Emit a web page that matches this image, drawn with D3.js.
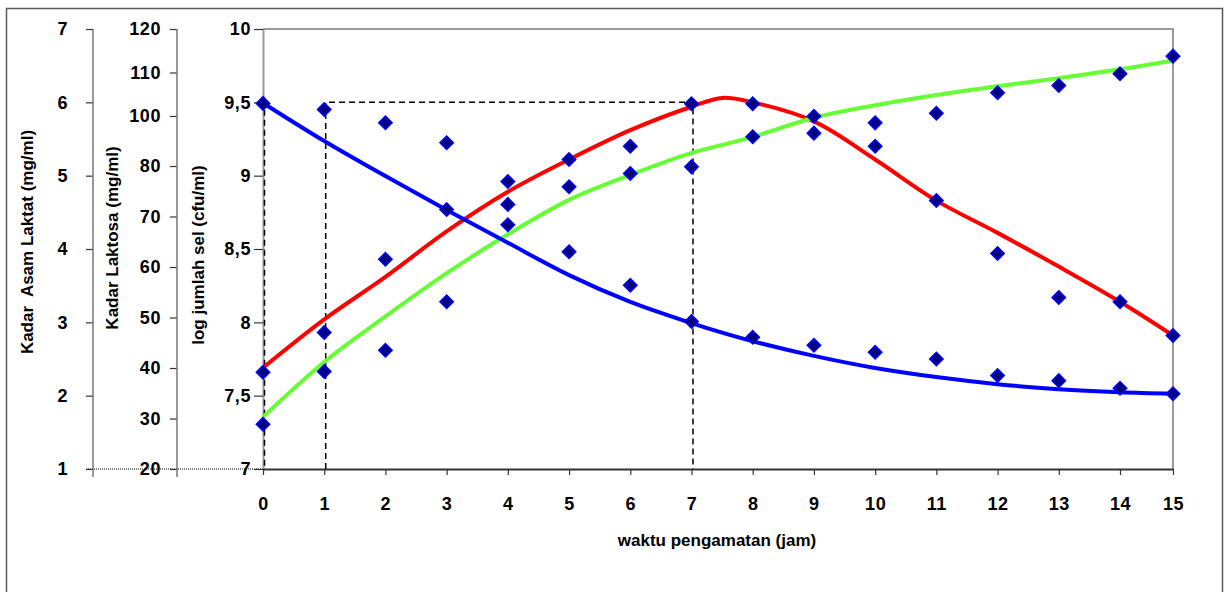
<!DOCTYPE html>
<html>
<head>
<meta charset="utf-8">
<script src="https://cdn.jsdelivr.net/npm/d3@7/dist/d3.min.js"></script>
<style>
  body { margin: 0; background: #fff; }
  svg { display: block; font-family: "Liberation Sans", Arial, sans-serif; font-weight: bold; }
  .tick text { font-family: "Liberation Sans", Arial, sans-serif; font-size: 18px; letter-spacing: 0.6px; fill: #000; }
</style>
</head>
<body>
<svg id="chart" width="1225" height="592"></svg>
<script>
// waktu pengamatan (jam)
const jam = [0, 1, 2, 3, 4, 5, 6, 7, 8, 9, 10, 11, 12, 13, 14, 15];

// observed points (diamonds)
const logSel = [7.66, 7.93, 8.43, 8.77, 8.96, 9.11, 9.20, 9.49, 9.49, 9.29, 9.20, 8.83, 8.47, 8.17, 8.14, 7.91];
const laktosa = [102.9, 101.5, 97.3, 89.3, 72.4, 63.0, 56.4, 49.2, 46.1, 44.5, 43.1, 41.8, 38.5, 37.5, 36.0, 34.9];
const asamLaktat = [1.61, 2.33, 2.62, 3.28, 4.33, 4.85, 5.03, 5.12, 5.53, 5.81, 5.72, 5.85, 6.13, 6.23, 6.39, 6.63];

// trend curves
const trendJam = [0, 1, 2, 3, 4, 5, 6, 7, 7.5, 8, 9, 10, 11, 12, 13, 14, 15];
const trendSel = [7.69, 8.02, 8.31, 8.62, 8.89, 9.11, 9.31, 9.47, 9.53, 9.50, 9.37, 9.11, 8.83, 8.61, 8.38, 8.14, 7.91];
const trendAsam = [1.71, 2.46, 3.08, 3.67, 4.20, 4.67, 5.01, 5.31, 5.42, 5.53, 5.79, 5.96, 6.10, 6.22, 6.33, 6.45, 6.57];
const trendLaktosa = [103.0, 90.0, 78.0, 71.3, 64.8, 58.4, 53.1, 48.9, 47.0, 45.3, 42.4, 40.0, 38.2, 36.8, 35.8, 35.2, 34.9];

// axis ticks
const ticksSel = [7, 7.5, 8, 8.5, 9, 9.5, 10];
const ticksLaktosa = [20, 30, 40, 50, 60, 70, 80, 100, 110, 120];
const ticksAsam = [1, 2, 3, 4, 5, 6, 7];

// dashed guide lines at the peak (jam, log sel)
const guides = [
  [[0, 9.45], [0, 7]],
  [[1, 7], [1, 9.5], [7, 9.5], [7, 7]]
];

const plot = { left: 263, right: 1173, top: 29, bottom: 469 };
const svg = d3.select("#chart");

// the last hour step is drawn a bit narrower in the original
const x = d3.scaleLinear()
  .domain([0, 14, 15])
  .range([plot.left, plot.right - 53, plot.right]);

const ySel = d3.scaleLinear().domain([7, 10]).range([plot.bottom, plot.top]);
const yAsam = d3.scaleLinear().domain([1, 7]).range([plot.bottom, plot.top]);
// laktosa labels are spaced evenly up to 80, then 100..120 squeezed on top
const yLak = d3.scaleLinear()
  .domain([20, 80, 100, 120])
  .range([plot.bottom, plot.bottom - 303, plot.bottom - 353, plot.top]);

// outer frame
svg.append("rect")
  .attr("x", 6.5).attr("y", 8.5)
  .attr("width", 1216).attr("height", 620)
  .attr("fill", "none")
  .attr("stroke", "#5a5a5a")
  .attr("stroke-width", 1.5);

// plot frame (top and right)
svg.append("path")
  .attr("d", `M${plot.left},${plot.top}H${plot.right}V${plot.bottom}`)
  .attr("fill", "none")
  .attr("stroke", "#999")
  .attr("stroke-width", 2);

// dotted base line across the extra axes
svg.append("line")
  .attr("x1", 86).attr("x2", plot.left)
  .attr("y1", plot.bottom).attr("y2", plot.bottom)
  .attr("stroke", "#000")
  .attr("stroke-width", 1)
  .attr("stroke-dasharray", "1,1");

function styleAxis(g) {
  g.attr("font-family", null).attr("font-size", null);
  g.selectAll(".tick line").attr("stroke", "#333").attr("stroke-width", 1.2);
}

// log jumlah sel axis
const axSel = svg.append("g")
  .attr("transform", `translate(${plot.left},0)`)
  .call(d3.axisLeft(ySel).tickValues(ticksSel)
    .tickFormat(d => String(d).replace(".", ","))
    .tickSize(9).tickPadding(3).tickSizeOuter(0));
axSel.select(".domain").attr("stroke", "#999").attr("stroke-width", 2);
styleAxis(axSel);

// laktosa axis
const lakX = 177;
const axLak = svg.append("g")
  .attr("transform", `translate(${lakX},0)`)
  .call(d3.axisLeft(yLak).tickValues(ticksLaktosa)
    .tickFormat(d3.format("d"))
    .tickSize(7).tickPadding(9).tickSizeOuter(0));
axLak.select(".domain").remove();
styleAxis(axLak);
svg.append("line")
  .attr("x1", lakX).attr("x2", lakX)
  .attr("y1", plot.top).attr("y2", plot.bottom + 8)
  .attr("stroke", "#777").attr("stroke-width", 1.5);

// asam laktat axis
const asamX = 93;
const axAsam = svg.append("g")
  .attr("transform", `translate(${asamX},0)`)
  .call(d3.axisLeft(yAsam).tickValues(ticksAsam)
    .tickFormat(d3.format("d"))
    .tickSize(7).tickPadding(18).tickSizeOuter(0));
axAsam.select(".domain").remove();
styleAxis(axAsam);
svg.append("line")
  .attr("x1", asamX).attr("x2", asamX)
  .attr("y1", plot.top).attr("y2", plot.bottom + 8)
  .attr("stroke", "#777").attr("stroke-width", 1.5);

// x axis
const axX = svg.append("g")
  .attr("transform", `translate(0,${plot.bottom})`)
  .call(d3.axisBottom(x).tickValues(jam)
    .tickFormat(d3.format("d"))
    .tickSize(6).tickPadding(22).tickSizeOuter(0));
axX.select(".domain").attr("stroke", "#333").attr("stroke-width", 2);
styleAxis(axX);

// axis titles
function title(text, tx, ty, rotate) {
  svg.append("text")
    .attr("transform", `translate(${tx},${ty})` + (rotate ? " rotate(-90)" : ""))
    .attr("text-anchor", "middle")
    .attr("font-size", 17)
    .style("white-space", "pre")
    .text(text);
}
title("Kadar  Asam Laktat (mg/ml)", 33, 242, true);
title("Kadar Laktosa (mg/ml)", 118, 238, true);
title("log jumlah sel (cfu/ml)", 204, 255, true);
title("waktu pengamatan (jam)", 717, 546, false);

// dashed guides
const guideLine = d3.line().x(d => x(d[0])).y(d => ySel(d[1]));
svg.append("g")
  .attr("transform", "translate(1.5,0)")
  .selectAll("path")
  .data(guides)
  .join("path")
  .attr("d", guideLine)
  .attr("fill", "none")
  .attr("stroke", "#000")
  .attr("stroke-width", 1.5)
  .attr("stroke-dasharray", "6,4");

// trend curves
const curves = [
  { values: trendSel, y: ySel, color: "#ff0000" },
  { values: trendAsam, y: yAsam, color: "#66ff33" },
  { values: trendLaktosa, y: yLak, color: "#0000ff" }
];
curves.forEach(c => {
  const line = d3.line()
    .x((d, i) => x(trendJam[i]))
    .y(d => c.y(d))
    .curve(d3.curveCatmullRom.alpha(0.5));
  svg.append("path")
    .attr("d", line(c.values))
    .attr("fill", "none")
    .attr("stroke", c.color)
    .attr("stroke-width", 4);
});

// diamonds
const points = [];
jam.forEach((j, i) => {
  points.push([x(j), ySel(logSel[i])]);
  points.push([x(j), yLak(laktosa[i])]);
  points.push([x(j), yAsam(asamLaktat[i])]);
});
const diamond = d3.symbol(d3.symbolSquare, 90);
svg.append("g")
  .selectAll("path")
  .data(points)
  .join("path")
  .attr("d", diamond)
  .attr("transform", d => `translate(${d[0]},${d[1]}) rotate(45)`)
  .attr("fill", "#000080")
  .attr("stroke", "#0000ff")
  .attr("stroke-width", 1.5);
</script>
</body>
</html>
